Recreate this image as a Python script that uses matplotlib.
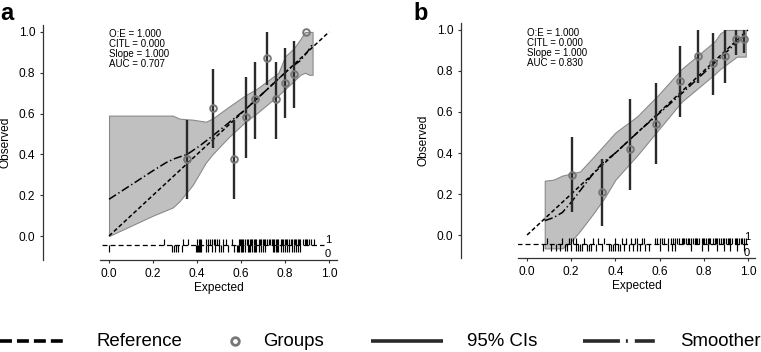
import matplotlib
matplotlib.use("Agg")
import matplotlib.pyplot as plt
from matplotlib.lines import Line2D

plt.rcParams['font.family'] = ['Liberation Sans', 'DejaVu Sans']
plt.rcParams['lines.scale_dashes'] = False

# ---------------- data: panel a ----------------
a_grp_x = [0.355, 0.474, 0.567, 0.621, 0.665, 0.717, 0.759, 0.798, 0.839, 0.894]
a_grp_y = [0.375, 0.625, 0.375, 0.584, 0.669, 0.874, 0.669, 0.750, 0.793, 1.000]
a_ci_lo = [0.18, 0.43, 0.18, 0.383, 0.476, 0.739, 0.476, 0.576, 0.628, 1.0]
a_ci_hi = [0.568, 0.817, 0.568, 0.78, 0.853, 1.0, 0.853, 0.922, 0.954, 1.0]

a_smooth_x = [0.0, 0.1, 0.2, 0.26, 0.3, 0.355, 0.41, 0.47, 0.55, 0.62, 0.7, 0.76, 0.82, 0.87, 0.9, 0.925]
a_smooth_y = [0.18, 0.25, 0.32, 0.36, 0.38, 0.40, 0.44, 0.49, 0.56, 0.62, 0.70, 0.76, 0.82, 0.86, 0.90, 0.94]

a_band_x = [0.0, 0.1, 0.2, 0.29, 0.32, 0.38, 0.44, 0.47, 0.54, 0.62, 0.67, 0.72, 0.77, 0.80, 0.84, 0.87, 0.89, 0.91, 0.925]
a_band_hi = [0.59, 0.59, 0.59, 0.59, 0.575, 0.57, 0.56, 0.575, 0.63, 0.69, 0.72, 0.76, 0.80, 0.88, 0.92, 0.965, 1.0, 1.0, 1.0]
a_band_lo = [0.0, 0.05, 0.10, 0.14, 0.17, 0.25, 0.36, 0.40, 0.48, 0.56, 0.60, 0.645, 0.69, 0.72, 0.76, 0.79, 0.80, 0.79, 0.79]

a_events = [0.25, 0.335, 0.36, 0.40, 0.41, 0.415, 0.42, 0.44, 0.45, 0.46, 0.47, 0.475, 0.48,
            0.49, 0.50, 0.52, 0.53, 0.56, 0.59, 0.595, 0.60, 0.605, 0.61, 0.62, 0.625, 0.63,
            0.64, 0.645, 0.65, 0.66, 0.665, 0.67, 0.68, 0.685, 0.69, 0.70, 0.705, 0.71, 0.72,
            0.725, 0.73, 0.74, 0.745, 0.75, 0.76, 0.765, 0.77, 0.78, 0.785, 0.79, 0.80, 0.805,
            0.81, 0.82, 0.825, 0.83, 0.84, 0.845, 0.85, 0.86, 0.865, 0.87, 0.88, 0.89, 0.895,
            0.90, 0.91, 0.92, 0.93]
a_nonevents = [0.0, 0.285, 0.295, 0.305, 0.315, 0.33, 0.395, 0.40, 0.405, 0.41, 0.415, 0.42,
               0.44, 0.45, 0.47, 0.48, 0.50, 0.51, 0.52, 0.54, 0.57, 0.58, 0.585, 0.59, 0.60,
               0.605, 0.61, 0.62, 0.63, 0.635, 0.64, 0.65, 0.66, 0.665, 0.67, 0.68, 0.69, 0.70,
               0.71, 0.745, 0.75, 0.76, 0.765, 0.77, 0.78, 0.79, 0.80, 0.81, 0.82, 0.83, 0.84,
               0.85, 0.86, 0.87]

# ---------------- data: panel b ----------------
b_grp_x = [0.204, 0.339, 0.466, 0.582, 0.692, 0.772, 0.843, 0.897, 0.944, 0.98]
b_grp_y = [0.293, 0.208, 0.418, 0.543, 0.750, 0.875, 0.837, 0.875, 0.958, 0.958]
b_ci_lo = [0.11, 0.046, 0.22, 0.345, 0.576, 0.74, 0.683, 0.74, 0.878, 0.89]
b_ci_hi = [0.476, 0.369, 0.663, 0.74, 0.922, 1.0, 0.984, 1.0, 1.0, 1.0]

b_smooth_x = [0.08, 0.12, 0.16, 0.2, 0.25, 0.3, 0.34, 0.4, 0.5, 0.6, 0.7, 0.8, 0.9, 0.95, 0.99]
b_smooth_y = [0.07, 0.085, 0.11, 0.16, 0.23, 0.30, 0.35, 0.40, 0.50, 0.595, 0.69, 0.79, 0.89, 0.94, 0.97]

b_band_x = [0.08, 0.12, 0.16, 0.2, 0.24, 0.3, 0.35, 0.4, 0.5, 0.6, 0.7, 0.8, 0.85, 0.875, 0.9, 0.95, 0.99]
b_band_hi = [0.265, 0.27, 0.29, 0.30, 0.31, 0.38, 0.44, 0.50, 0.58, 0.69, 0.81, 0.90, 0.945, 0.984, 1.0, 1.0, 1.0]
b_band_lo = [-0.065, -0.065, -0.065, -0.03, 0.02, 0.105, 0.18, 0.27, 0.39, 0.52, 0.65, 0.74, 0.785, 0.81, 0.83, 0.87, 0.87]

b_events = [0.09, 0.16, 0.19, 0.20, 0.21, 0.22, 0.26, 0.30, 0.32, 0.35, 0.40, 0.43, 0.45, 0.47,
            0.49, 0.50, 0.52, 0.53, 0.58, 0.59, 0.60, 0.61, 0.62, 0.64, 0.65, 0.66, 0.67, 0.68,
            0.69, 0.70, 0.705, 0.71, 0.72, 0.73, 0.735, 0.74, 0.75, 0.76, 0.765, 0.77, 0.78,
            0.79, 0.795, 0.80, 0.81, 0.82, 0.825, 0.83, 0.84, 0.85, 0.855, 0.86, 0.87, 0.88,
            0.885, 0.89, 0.90, 0.91, 0.915, 0.92, 0.93, 0.94, 0.945, 0.95, 0.96, 0.97, 0.975,
            0.98, 0.99]
b_nonevents = [0.07, 0.11, 0.13, 0.15, 0.17, 0.18, 0.20, 0.22, 0.23, 0.24, 0.25, 0.27, 0.28,
               0.29, 0.31, 0.34, 0.37, 0.38, 0.39, 0.40, 0.41, 0.42, 0.44, 0.46, 0.48, 0.50,
               0.51, 0.535, 0.55, 0.60, 0.64, 0.655, 0.67, 0.74, 0.79, 0.82, 0.86, 0.89, 0.92,
               0.95, 0.98]

stats_a = ["O:E = 1.000", "CITL = 0.000", "Slope = 1.000", "AUC = 0.707"]
stats_b = ["O:E = 1.000", "CITL = 0.000", "Slope = 1.000", "AUC = 0.830"]
ticks = [0.0, 0.2, 0.4, 0.6, 0.8, 1.0]
tick_labels = ["0.0", "0.2", "0.4", "0.6", "0.8", "1.0"]

W, H = 761, 352
fig = plt.figure(figsize=(W / 100, H / 100), dpi=100)

DARK = '#2a2a2a'
BAND = '#c0c0c0'
BAND_EDGE = '#8a8a8a'
PT = '#777777'


def panel(rect, xlim, ylim, gx, gy, lo, hi, sx, sy, bx, bhi, blo, ev, nev, stats,
          base, lab1_y, lab0_y, base_x, letter, letter_px):
    ax = fig.add_axes(rect)
    ax.set_xlim(*xlim)
    ax.set_ylim(*ylim)
    ax.fill_between(bx, blo, bhi, facecolor=BAND, edgecolor=BAND_EDGE, linewidth=0.8, zorder=1)
    ax.plot([0, 1], [0, 1], color='black', lw=1.1, dashes=(3, 1.8), zorder=3)
    ax.plot(sx, sy, color='black', lw=1.1, dashes=(6, 2, 1, 2), zorder=3)
    ax.vlines(gx, lo, hi, color=DARK, lw=1.7, zorder=4)
    ax.plot(gx, gy, 'o', ms=4.8, mfc='none', mec=PT, mew=1.4, zorder=5)
    # rug
    ax.plot(base_x, [base, base], color='black', lw=0.9, dashes=(3.6, 2.2), zorder=3)
    ax.vlines(ev, base, base + 0.03, color='black', lw=0.85, zorder=3)
    ax.vlines(nev, base - 0.033, base, color='black', lw=0.85, zorder=3)
    ax.text(0.995, lab1_y, "1", ha='center', va='center', fontsize=8)
    ax.text(0.995, lab0_y, "0", ha='center', va='center', fontsize=8)
    ax.text(0.0, 1.012, "\n".join(stats), ha='left', va='top', fontsize=7, linespacing=1.0)
    for s in ['top', 'right']:
        ax.spines[s].set_visible(False)
    ax.spines['left'].set_position(('outward', 41))
    for s in ['left', 'bottom']:
        ax.spines[s].set_color('#333333')
        ax.spines[s].set_linewidth(0.9)
    ax.set_xticks(ticks)
    ax.set_xticklabels(tick_labels)
    ax.set_yticks(ticks)
    ax.set_yticklabels(tick_labels)
    ax.tick_params(length=2.2, width=0.8, labelsize=8.6, pad=3.5, color='#333333')
    ax.set_xlabel("Expected", fontsize=8.6)
    ax.set_ylabel("Observed", fontsize=8.6)
    ax.xaxis.set_label_coords(0.5, -0.095)
    ax.yaxis.set_label_coords(-0.375, 0.5)
    fig.text(letter_px / W, 1 - 20 / H, letter, fontsize=17, fontweight='bold', ha='left', va='baseline')
    return ax


panel([100 / W, (H - 260) / H, 237 / W, 235 / H], (-0.041, 1.036), (-0.1176, 1.034),
      a_grp_x, a_grp_y, a_ci_lo, a_ci_hi, a_smooth_x, a_smooth_y,
      a_band_x, a_band_hi, a_band_lo, a_events, a_nonevents, stats_a,
      -0.046, -0.02, -0.088, [-0.032, 0.975], "a", 0)

panel([518 / W, (H - 258) / H, 237 / W, 235 / H], (-0.041, 1.032), (-0.112, 1.034),
      b_grp_x, b_grp_y, b_ci_lo, b_ci_hi, b_smooth_x, b_smooth_y,
      b_band_x, b_band_hi, b_band_lo, b_events, b_nonevents, stats_b,
      -0.044, -0.008, -0.088, [-0.045, 1.0], "b", 413)

# ---------------- bottom legend ----------------
ly = 1 - 341 / H


def fx(px):
    return px / W


fig.add_artist(Line2D([fx(0), fx(65)], [ly, ly], transform=fig.transFigure, color='black',
                      lw=2.6, dashes=(8.6, 3.6), solid_capstyle='butt', dash_capstyle='butt'))
fig.add_artist(Line2D([fx(235)], [ly], transform=fig.transFigure, marker='o', ms=5.5,
                      mfc='white', mec=PT, mew=2.0, linestyle='none'))
fig.add_artist(Line2D([fx(371), fx(443)], [ly, ly], transform=fig.transFigure, color=DARK,
                      lw=2.6, solid_capstyle='butt'))
fig.add_artist(Line2D([fx(583), fx(657)], [ly, ly], transform=fig.transFigure, color=DARK,
                      lw=2.6, dashes=(26.6, 4.3, 1.4, 5.0, 14.4, 60), dash_capstyle='butt'))
for px, txt in [(97, "Reference"), (263, "Groups"), (467, "95% CIs"), (680, "Smoother")]:
    fig.text(fx(px), ly, txt, fontsize=13.4, ha='left', va='center')

fig.savefig("out.png", dpi=100)
